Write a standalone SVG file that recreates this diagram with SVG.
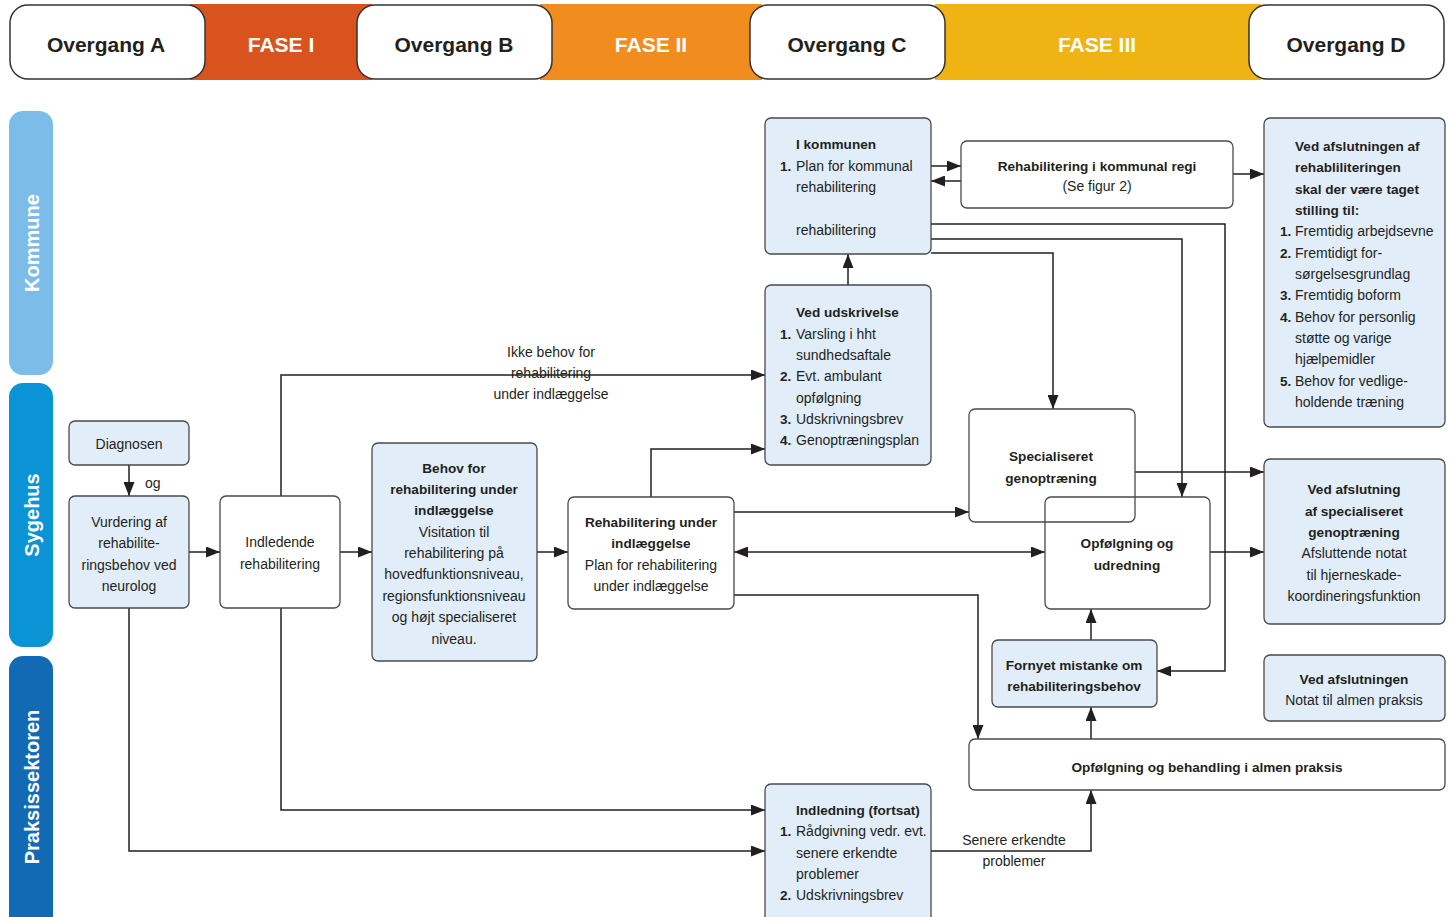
<svg xmlns="http://www.w3.org/2000/svg" width="1453" height="917" viewBox="0 0 1453 917">
<style>
.t{font-family:"Liberation Sans",Arial,sans-serif;font-size:14px;fill:#231F20}
.b{font-weight:bold;font-size:13.6px}
.c{text-anchor:middle}
.h{font-family:"Liberation Sans",Arial,sans-serif;font-size:21px;font-weight:bold;text-anchor:middle;fill:#231F20}
.hw{fill:#FFFFFF}
.lane{font-family:"Liberation Sans",Arial,sans-serif;font-size:20px;font-weight:bold;text-anchor:middle;fill:#FFFFFF}
.nb{fill:#E1EDF8;stroke:#4A4A4A;stroke-width:1.3}
.nw{fill:#FFFFFF;stroke:#4A4A4A;stroke-width:1.3}
.no{fill:none;stroke:#4A4A4A;stroke-width:1.3}
.ov{fill:#FFFFFF;stroke:#333333;stroke-width:1.5}
</style>
<defs>
<marker id="a" viewBox="0 0 14 11" refX="14" refY="5.5" markerWidth="14" markerHeight="11" orient="auto-start-reverse" markerUnits="userSpaceOnUse">
<path d="M0,0 L14,5.5 L0,11 z" fill="#231F20"/>
</marker>
</defs>
<rect x="0" y="0" width="1453" height="917" fill="#FFFFFF"/>

<g id="header">
<rect x="190" y="4" width="182" height="76" fill="#D9531E"/>
<rect x="540" y="4" width="222" height="76" fill="#F18C1F"/>
<rect x="935" y="4" width="326" height="76" fill="#EFB314"/>
<text class="h hw" x="281" y="52">FASE I</text>
<text class="h hw" x="651" y="52">FASE II</text>
<text class="h hw" x="1097" y="52">FASE III</text>
<g id="overgangA"><rect class="ov" x="10" y="5" width="195" height="74" rx="18"/><text class="h" x="106" y="52">Overgang A</text></g>
<g id="overgangB"><rect class="ov" x="357" y="5" width="195" height="74" rx="18"/><text class="h" x="454" y="52">Overgang B</text></g>
<g id="overgangC"><rect class="ov" x="750" y="5" width="195" height="74" rx="18"/><text class="h" x="847" y="52">Overgang C</text></g>
<g id="overgangD"><rect class="ov" x="1249" y="5" width="195" height="74" rx="18"/><text class="h" x="1346" y="52">Overgang D</text></g>
</g>

<g id="lanes">
<g id="lane-kommune"><rect x="9" y="111" width="44" height="264" rx="14" fill="#7BBDE8"/><text class="lane" transform="translate(39,243) rotate(-90)">Kommune</text></g>
<g id="lane-sygehus"><rect x="9" y="383" width="44" height="264" rx="14" fill="#0A93D5"/><text class="lane" transform="translate(39,515) rotate(-90)">Sygehus</text></g>
<g id="lane-praksis"><rect x="9" y="656" width="44" height="275" rx="14" fill="#1269B4"/><text class="lane" transform="translate(39,787) rotate(-90)">Praksissektoren</text></g>
</g>

<g id="connectors" fill="none" stroke="#231F20" stroke-width="1.5" marker-end="url(#a)">
<path d="M129,465 V496"/>
<path d="M189,552 H220"/>
<path d="M340,552 H372"/>
<path d="M537,552 H568"/>
<path d="M281,496 V375 H765"/>
<path d="M651,497 V449 H765"/>
<path d="M848,285 V254"/>
<path d="M931,166 H961"/>
<path d="M961,181 H931"/>
<path d="M1233,174 H1264"/>
<path d="M931,224 H1225 V671 H1157"/>
<path d="M931,239 H1182 V497"/>
<path d="M931,253 H1053 V409"/>
<path d="M1135,472 H1264"/>
<path d="M734,512 H969"/>
<path d="M734,552 H1045" marker-start="url(#a)"/>
<path d="M1210,552 H1264"/>
<path d="M734,595 H978 V739"/>
<path d="M1091,640 V609"/>
<path d="M1091,739 V707"/>
<path d="M931,851 H1091 V790"/>
<path d="M281,608 V810 H765"/>
<path d="M129,608 V851 H765"/>
<g stroke="none" marker-end="none">
<text class="t" x="145" y="488">og</text>
<text class="t c" x="551" y="357">Ikke behov for</text>
<text class="t c" x="551" y="378">rehabilitering</text>
<text class="t c" x="551" y="399">under indlæggelse</text>
<text class="t c" x="1014" y="845">Senere erkendte</text>
<text class="t c" x="1014" y="866">problemer</text>
</g>
</g>

<g id="n-kommunen">
<rect class="nb" x="765" y="118" width="166" height="136" rx="6"/>
<text class="t b" x="796" y="149">I kommunen</text>
<text class="t b" x="780" y="171">1.</text><text class="t" x="796" y="171">Plan for kommunal</text>
<text class="t" x="796" y="192">rehabilitering</text>
<text class="t" x="796" y="235">rehabilitering</text>
</g>
<g id="n-kommunal-regi">
<rect class="nw" x="961" y="141" width="272" height="67" rx="6"/>
<text class="t b c" x="1097" y="171">Rehabilitering i kommunal regi</text>
<text class="t c" x="1097" y="191">(Se figur 2)</text>
</g>
<g id="n-afslutningen-rehab">
<rect class="nb" x="1264" y="118" width="181" height="309" rx="6"/>
<text class="t b" x="1295" y="151">Ved afslutningen af</text>
<text class="t b" x="1295" y="172">rehabliliteringen</text>
<text class="t b" x="1295" y="194">skal der være taget</text>
<text class="t b" x="1295" y="215">stilling til:</text>
<text class="t b" x="1280" y="236">1.</text><text class="t" x="1295" y="236">Fremtidig arbejdsevne</text>
<text class="t b" x="1280" y="258">2.</text><text class="t" x="1295" y="258">Fremtidigt for-</text>
<text class="t" x="1295" y="279">sørgelsesgrundlag</text>
<text class="t b" x="1280" y="300">3.</text><text class="t" x="1295" y="300">Fremtidig boform</text>
<text class="t b" x="1280" y="322">4.</text><text class="t" x="1295" y="322">Behov for personlig</text>
<text class="t" x="1295" y="343">støtte og varige</text>
<text class="t" x="1295" y="364">hjælpemidler</text>
<text class="t b" x="1280" y="386">5.</text><text class="t" x="1295" y="386">Behov for vedlige-</text>
<text class="t" x="1295" y="407">holdende træning</text>
</g>
<g id="n-udskrivelse">
<rect class="nb" x="765" y="285" width="166" height="180" rx="6"/>
<text class="t b" x="796" y="317">Ved udskrivelse</text>
<text class="t b" x="780" y="339">1.</text><text class="t" x="796" y="339">Varsling i hht</text>
<text class="t" x="796" y="360">sundhedsaftale</text>
<text class="t b" x="780" y="381">2.</text><text class="t" x="796" y="381">Evt. ambulant</text>
<text class="t" x="796" y="403">opfølgning</text>
<text class="t b" x="780" y="424">3.</text><text class="t" x="796" y="424">Udskrivningsbrev</text>
<text class="t b" x="780" y="445">4.</text><text class="t" x="796" y="445">Genoptræningsplan</text>
</g>
<g id="n-diagnosen">
<rect class="nb" x="69" y="421" width="120" height="44" rx="6"/>
<text class="t c" x="129" y="449">Diagnosen</text>
</g>
<g id="n-vurdering">
<rect class="nb" x="69" y="496" width="120" height="112" rx="6"/>
<text class="t c" x="129" y="527">Vurdering af</text>
<text class="t c" x="129" y="548">rehabilite-</text>
<text class="t c" x="129" y="570">ringsbehov ved</text>
<text class="t c" x="129" y="591">neurolog</text>
</g>
<g id="n-indledende">
<rect class="nw" x="220" y="496" width="120" height="112" rx="6"/>
<text class="t c" x="280" y="547">Indledende</text>
<text class="t c" x="280" y="569">rehabilitering</text>
</g>
<g id="n-behov">
<rect class="nb" x="372" y="443" width="165" height="218" rx="6"/>
<text class="t b c" x="454" y="473">Behov for</text>
<text class="t b c" x="454" y="494">rehabilitering under</text>
<text class="t b c" x="454" y="515">indlæggelse</text>
<text class="t c" x="454" y="537">Visitation til</text>
<text class="t c" x="454" y="558">rehabilitering på</text>
<text class="t c" x="454" y="579">hovedfunktionsniveau,</text>
<text class="t c" x="454" y="601">regionsfunktionsniveau</text>
<text class="t c" x="454" y="622">og højt specialiseret</text>
<text class="t c" x="454" y="644">niveau.</text>
</g>
<g id="n-rehab-indlaeggelse">
<rect class="nw" x="568" y="497" width="166" height="112" rx="6"/>
<text class="t b c" x="651" y="527">Rehabilitering under</text>
<text class="t b c" x="651" y="548">indlæggelse</text>
<text class="t c" x="651" y="570">Plan for rehabilitering</text>
<text class="t c" x="651" y="591">under indlæggelse</text>
</g>
<g id="n-specialiseret">
<rect class="no" x="969" y="409" width="166" height="113" rx="6"/>
<text class="t b c" x="1051" y="461">Specialiseret</text>
<text class="t b c" x="1051" y="483">genoptræning</text>
</g>
<g id="n-opfoelgning">
<rect class="no" x="1045" y="497" width="165" height="112" rx="6"/>
<text class="t b c" x="1127" y="548">Opfølgning og</text>
<text class="t b c" x="1127" y="570">udredning</text>
</g>
<g id="n-afslutning-spec">
<rect class="nb" x="1264" y="459" width="181" height="165" rx="6"/>
<text class="t b c" x="1354" y="494">Ved afslutning</text>
<text class="t b c" x="1354" y="516">af specialiseret</text>
<text class="t b c" x="1354" y="537">genoptræning</text>
<text class="t c" x="1354" y="558">Afsluttende notat</text>
<text class="t c" x="1354" y="580">til hjerneskade-</text>
<text class="t c" x="1354" y="601">koordineringsfunktion</text>
</g>
<g id="n-fornyet">
<rect class="nb" x="992" y="640" width="165" height="67" rx="6"/>
<text class="t b c" x="1074" y="670">Fornyet mistanke om</text>
<text class="t b c" x="1074" y="691">rehabiliteringsbehov</text>
</g>
<g id="n-afslutningen-notat">
<rect class="nb" x="1264" y="655" width="181" height="66" rx="6"/>
<text class="t b c" x="1354" y="684">Ved afslutningen</text>
<text class="t c" x="1354" y="705">Notat til almen praksis</text>
</g>
<g id="n-almen-praksis">
<rect class="nw" x="969" y="739" width="476" height="51" rx="6"/>
<text class="t b c" x="1207" y="772">Opfølgning og behandling i almen praksis</text>
</g>
<g id="n-indledning-fortsat">
<rect class="nb" x="765" y="784" width="166" height="145" rx="6"/>
<text class="t b" x="796" y="815">Indledning (fortsat)</text>
<text class="t b" x="780" y="836">1.</text><text class="t" x="796" y="836">Rådgivning vedr. evt.</text>
<text class="t" x="796" y="858">senere erkendte</text>
<text class="t" x="796" y="879">problemer</text>
<text class="t b" x="780" y="900">2.</text><text class="t" x="796" y="900">Udskrivningsbrev</text>
</g>
</svg>
